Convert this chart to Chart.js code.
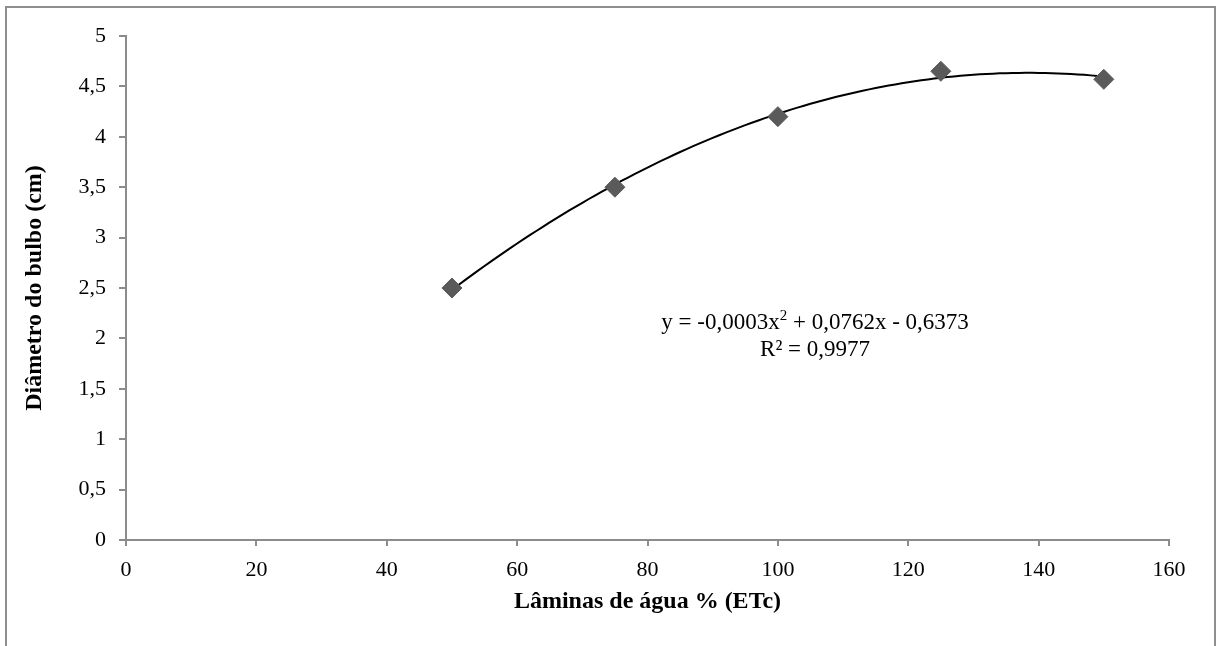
<!DOCTYPE html>
<html><head><meta charset="utf-8">
<script src="https://cdn.jsdelivr.net/npm/chart.js@4"></script>
<style>
html,body{margin:0;padding:0;background:#fff;overflow:hidden}
#frame{position:absolute;left:5px;top:6px;width:1211px;height:700px;border:2px solid #8e8e8e;box-sizing:border-box}
#wrap{position:absolute;left:0;top:0;width:1218px;height:646px}
</style></head><body>
<div id="frame"></div>
<div id="wrap"><canvas id="c" width="1218" height="646"></canvas></div>
<script>
const laminas = [50, 75, 100, 125, 150];
const diametro = [2.5, 3.5, 4.2, 4.65, 4.57];
const xTickLabels = ['0', '20', '40', '60', '80', '100', '120', '140', '160'];
const yTickLabels = ['0', '0,5', '1', '1,5', '2', '2,5', '3', '3,5', '4', '4,5', '5'];
const equationParts = ['y = -0,0003x', '2', ' + 0,0762x - 0,6373'];
const r2Text = 'R² = 0,9977';
const xTitle = 'Lâminas de água % (ETc)';
const yTitle = 'Diâmetro do bulbo (cm)';

// least-squares quadratic fit from the data (Excel-style polynomial trendline)
function quadFit(xs, ys) {
  let n = xs.length, S = [0,0,0,0,0], T = [0,0,0];
  for (let i = 0; i < n; i++) {
    let p = 1;
    for (let k = 0; k < 5; k++) { S[k] += p; if (k < 3) T[k] += p * ys[i]; p *= xs[i]; }
  }
  const A = [[S[0],S[1],S[2],T[0]],[S[1],S[2],S[3],T[1]],[S[2],S[3],S[4],T[2]]];
  for (let i = 0; i < 3; i++) {
    for (let j = i + 1; j < 3; j++) {
      const f = A[j][i] / A[i][i];
      for (let k = i; k < 4; k++) A[j][k] -= f * A[i][k];
    }
  }
  const c = [0,0,0];
  for (let i = 2; i >= 0; i--) {
    let s = A[i][3];
    for (let k = i + 1; k < 3; k++) s -= A[i][k] * c[k];
    c[i] = s / A[i][i];
  }
  return c;
}
const coef = quadFit(laminas, diametro);
const trend = [];
for (let x = laminas[0]; x <= laminas[laminas.length - 1] + 1e-9; x += 1) {
  trend.push({x: x, y: coef[0] + coef[1] * x + coef[2] * x * x});
}

const axisColor = '#8c8c8c';
const serif = '"Liberation Serif", "Times New Roman", serif';

const eqPlugin = {
  id: 'eq',
  afterDraw(chart) {
    const ctx = chart.ctx;
    const xs = chart.scales.x, ys = chart.scales.y;
    const cx = xs.getPixelForValue(105.7);
    const base1 = ys.getPixelForValue(2.09);
    const base2 = ys.getPixelForValue(1.83);
    const big = '23px ' + serif, small = '15px ' + serif;
    ctx.save();
    ctx.fillStyle = '#000';
    ctx.textBaseline = 'alphabetic';
    ctx.textAlign = 'left';
    ctx.font = big;
    const w0 = ctx.measureText(equationParts[0]).width;
    const w2 = ctx.measureText(equationParts[2]).width;
    ctx.font = small;
    const w1 = ctx.measureText(equationParts[1]).width;
    let x = cx - (w0 + w1 + w2) / 2;
    ctx.font = big;
    ctx.fillText(equationParts[0], x, base1);
    x += w0;
    ctx.font = small;
    ctx.fillText(equationParts[1], x, base1 - 9);
    x += w1;
    ctx.font = big;
    ctx.fillText(equationParts[2], x, base1);
    ctx.textAlign = 'center';
    ctx.fillText(r2Text, cx, base2);
    ctx.restore();
  }
};

new Chart(document.getElementById('c'), {
  type: 'scatter',
  data: {
    datasets: [
      {
        label: 'trend',
        data: trend,
        showLine: true,
        borderColor: '#000',
        borderWidth: 2,
        pointRadius: 0,
        fill: false,
        tension: 0,
        order: 2
      },
      {
        label: 'Diâmetro',
        data: laminas.map((x, i) => ({x: x, y: diametro[i]})),
        pointStyle: 'rectRot',
        pointRadius: 10,
        backgroundColor: '#5a5a5a',
        borderColor: '#5a5a5a',
        borderWidth: 1,
        showLine: false,
        order: 1
      }
    ]
  },
  options: {
    responsive: false,
    animation: false,
    events: [],
    layout: {padding: {top: 36, right: 49, left: 0, bottom: 0}},
    plugins: {legend: {display: false}, tooltip: {enabled: false}},
    scales: {
      x: {
        type: 'linear', min: 0, max: 160,
        afterFit(s) { s.height = 106; },
        afterBuildTicks(s) { s.ticks = xTickLabels.map(t => ({value: Number(t)})); },
        ticks: {
          callback: (v, i) => xTickLabels[i],
          font: {family: serif, size: 22}, color: '#000', padding: 11, maxRotation: 0
        },
        grid: {drawOnChartArea: false, drawTicks: true, tickLength: 6, color: axisColor, lineWidth: 2},
        border: {display: true, color: axisColor, width: 2},
        title: {display: true, text: xTitle, font: {family: serif, size: 24, weight: 'bold'}, color: '#000', padding: {top: 0, bottom: 30}}
      },
      y: {
        type: 'linear', min: 0, max: 5,
        afterFit(s) { s.width = 126; },
        afterBuildTicks(s) { s.ticks = yTickLabels.map(t => ({value: Number(t.replace(',', '.'))})); },
        ticks: {
          callback: (v, i) => yTickLabels[i],
          font: {family: serif, size: 22}, color: '#000', padding: 13
        },
        grid: {drawOnChartArea: false, drawTicks: true, tickLength: 7, color: axisColor, lineWidth: 2},
        border: {display: true, color: axisColor, width: 2},
        title: {display: true, text: yTitle, font: {family: serif, size: 24, weight: 'bold'}, color: '#000', padding: {top: 20, bottom: 0}}
      }
    }
  },
  plugins: [eqPlugin]
});
</script>
</body></html>
